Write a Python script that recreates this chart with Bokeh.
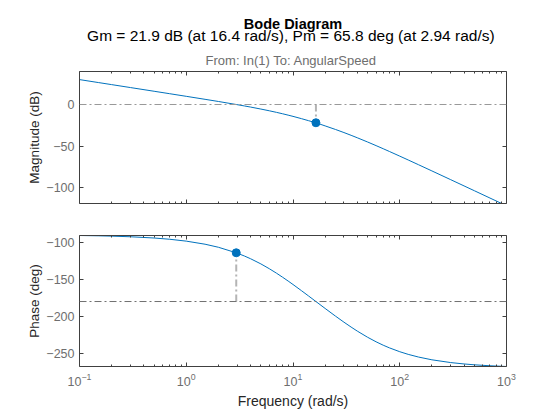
from bokeh.plotting import figure
from bokeh.layouts import column
from bokeh.models import Range1d, FixedTicker, LogAxis, LinearAxis, Span
from bokeh.core.properties import value
from bokeh.embed import file_html
from bokeh.resources import INLINE

# ---- data ----
freq = [0.1, 0.15, 0.2, 0.3, 0.5, 0.7, 1, 1.5, 2, 2.94, 3.5, 4, 5, 6, 7, 8, 9, 10,
        12, 14, 16.4, 20, 25, 30, 35, 40, 50, 60, 70, 80, 100, 120, 150, 200,
        300, 400, 500, 700, 1000]
mag_db = [29.88, 26.36, 23.86, 20.34, 15.89, 12.95, 9.82, 6.22, 3.62, 0.0, -1.71,
          -3.07, -5.46, -7.55, -9.43, -11.15, -12.75, -14.24, -16.97, -19.44,
          -21.9, -25.68, -29.96, -33.67, -36.96, -39.90, -45.01, -49.34, -53.08,
          -56.37, -61.96, -66.58, -72.29, -79.70, -90.20, -97.67, -103.48,
          -112.24, -121.53]
phase_deg = [-90.85, -91.27, -91.70, -92.54, -94.24, -95.92, -98.45, -102.62,
             -106.72, -114.2, -118.49, -122.18, -129.20, -135.71, -141.71,
             -147.23, -152.31, -157.00, -165.34, -172.54, -180.0, -189.34,
             -199.69, -207.85, -214.46, -219.90, -228.27, -234.36, -238.97,
             -242.55, -247.76, -251.33, -254.97, -258.67, -262.42, -264.30,
             -265.44, -266.74, -267.72]
gm_freq, gm_db = 16.4, -21.9
pm_freq, pm_phase = 2.94, -114.2
mag_ref = 0
phase_ref = -180
x_ticks = [0.1, 1, 10, 100, 1000]
x_minor = [m * d for d in [0.1, 1, 10, 100] for m in range(2, 10)]
mag_ticks = [-100, -50, 0]
phase_ticks = [-250, -200, -150, -100]
mag_lim = (-118.8, 39.6)
phase_lim = (-267.72, -90.85)
title_main = "Bode Diagram"
title_sub = "Gm = 21.9 dB (at 16.4 rad/s),  Pm = 65.8 deg (at 2.94 rad/s)"
io_label = "From: In(1)  To: AngularSpeed"
x_label = "Frequency (rad/s)"
mag_label = "Magnitude (dB)"
phase_label = "Phase (deg)"

FONT = "Liberation Sans"
BLUE = "#0072BD"
AX = "#404040"
TICKLAB = "#6e6e6e"
LAB = "#262626"
W = 560
H0, H1, H2 = 70, 149, 201
TOP1, BOT1, TOP2, BOT2 = 1, 16, 16, 54
LEFT, RIGHT = 79, 54


def style(ax, ticker, show_labels=True, minor=False):
    ax.ticker = ticker
    ax.axis_line_color = AX
    ax.axis_line_width = 1
    ax.major_tick_line_color = AX
    ax.major_tick_in = 4
    ax.major_tick_out = 0
    if minor:
        ax.minor_tick_line_color = AX
        ax.minor_tick_in = 2
        ax.minor_tick_out = 0
    else:
        ax.minor_tick_line_color = None
    ax.major_label_text_font = FONT
    ax.major_label_text_color = TICKLAB
    ax.major_label_standoff = 5
    if show_labels:
        ax.major_label_text_font_size = "12.5px"
    else:
        ax.major_label_text_font_size = "1px"
        ax.major_label_text_alpha = 0
        ax.major_label_standoff = 0
    ax.axis_label_text_font = FONT
    ax.axis_label_text_font_style = "normal"
    ax.axis_label_text_color = LAB


def make_fig(height, yr, top, bottom, xr=None):
    p = figure(width=W, height=height, x_axis_type="log",
               x_range=xr if xr is not None else Range1d(0.1, 1000),
               y_range=Range1d(*yr), output_backend="svg", toolbar_location=None,
               min_border_left=LEFT, min_border_right=RIGHT, min_border_top=top,
               min_border_bottom=bottom)
    p.outline_line_color = None
    p.xgrid.visible = False
    p.ygrid.visible = False
    p.background_fill_color = "white"
    p.border_fill_color = "white"
    return p


# ---- title block: x in page pixels (frame is aligned with the panels below),
#      y in page pixels downwards ----
p0 = figure(width=W, height=H0, x_range=Range1d(LEFT, W - RIGHT),
            y_range=Range1d(H0, 0),
            x_axis_location=None, y_axis_location=None, output_backend="svg",
            toolbar_location=None, title=None, min_border=0,
            min_border_left=LEFT, min_border_right=RIGHT, min_border_top=0,
            min_border_bottom=0)
p0.outline_line_color = None
p0.xgrid.visible = False
p0.ygrid.visible = False
x_mid = LEFT + (W - LEFT - RIGHT) / 2
p0.text(x=[x_mid], y=[23.5], text=[title_main], text_font=value(FONT),
        text_font_style="bold", text_font_size=value("14.5px"), text_color="black",
        text_align="center", text_baseline="alphabetic")
p0.text(x=[x_mid], y=[34.5], text=[title_sub], text_font=value(FONT),
        text_font_size=value("15.5px"), text_color="black",
        text_align="center", text_baseline="alphabetic")
p0.text(x=[x_mid], y=[60], text=[io_label], text_font=value(FONT),
        text_font_size=value("13px"), text_color=TICKLAB,
        text_align="center", text_baseline="alphabetic")

xt = FixedTicker(ticks=x_ticks, minor_ticks=x_minor)

# ---- magnitude panel ----
p1 = make_fig(H1, mag_lim, TOP1, BOT1)
yt1 = FixedTicker(ticks=mag_ticks)
style(p1.xaxis[0], xt, show_labels=False, minor=True)
style(p1.yaxis[0], yt1)
p1.yaxis[0].axis_label = mag_label
p1.yaxis[0].axis_label_text_font_size = "13.5px"
p1.yaxis[0].axis_label_standoff = 1
top1 = LogAxis()
style(top1, xt, show_labels=False, minor=True)
p1.add_layout(top1, "above")
right1 = LinearAxis()
style(right1, yt1, show_labels=False)
p1.add_layout(right1, "right")

p1.add_layout(Span(location=mag_ref, dimension="width", line_color="#999999",
                   line_width=1, line_dash="7 3 2 3"))
p1.segment(x0=[gm_freq], y0=[mag_ref], x1=[gm_freq], y1=[gm_db],
           line_color="#b4b4b4", line_width=2, line_dash="7 3 2 3")
p1.line(freq, mag_db, line_color=BLUE, line_width=1)
p1.scatter([gm_freq], [gm_db], size=8, fill_color=BLUE, line_color=BLUE)

# ---- phase panel ----
p2 = make_fig(H2, phase_lim, TOP2, BOT2, xr=p1.x_range)
yt2 = FixedTicker(ticks=phase_ticks)
style(p2.xaxis[0], xt, show_labels=True, minor=True)
p2.xaxis[0].major_label_standoff = 6
p2.xaxis[0].axis_label = x_label
p2.xaxis[0].axis_label_text_font_size = "14px"
p2.xaxis[0].axis_label_standoff = 4
style(p2.yaxis[0], yt2)
p2.yaxis[0].axis_label = phase_label
p2.yaxis[0].axis_label_text_font_size = "13.5px"
p2.yaxis[0].axis_label_standoff = 1
top2 = LogAxis()
style(top2, xt, show_labels=False, minor=True)
p2.add_layout(top2, "above")
right2 = LinearAxis()
style(right2, yt2, show_labels=False)
p2.add_layout(right2, "right")

p2.add_layout(Span(location=phase_ref, dimension="width", line_color="#707070",
                   line_width=1, line_dash="7 3 2 3"))
p2.segment(x0=[pm_freq], y0=[phase_ref], x1=[pm_freq], y1=[pm_phase],
           line_color="#b4b4b4", line_width=2, line_dash="7 3 2 3")
p2.line(freq, phase_deg, line_color=BLUE, line_width=1)
p2.scatter([pm_freq], [pm_phase], size=8, fill_color=BLUE, line_color=BLUE)

layout = column(p0, p1, p2, spacing=0)
open("out.html", "w").write(file_html(layout, INLINE))
